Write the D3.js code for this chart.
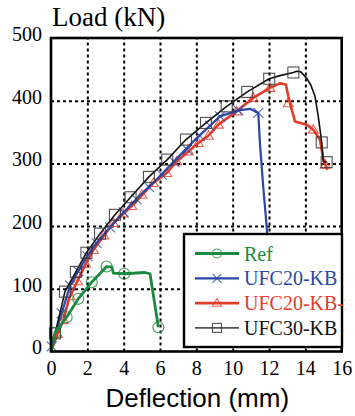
<!DOCTYPE html>
<html>
<head>
<meta charset="utf-8">
<script src="https://cdn.jsdelivr.net/npm/d3@7/dist/d3.min.js"></script>
<style>
  body { margin: 0; background: #fff; }
  svg { display: block; }
  .serif { font-family: "Liberation Serif", Tinos, "DejaVu Serif", "Times New Roman", serif; }
  .sans { font-family: "Liberation Sans", Arimo, Arial, sans-serif; }
</style>
</head>
<body>
<div id="chart"></div>
<script>
// deflection (mm) / load (kN)
const refDefl = [0, 0.22, 0.86, 1.50, 2.24, 3.06, 3.35, 3.43, 4.03, 5.17, 5.45, 5.91];
const refLoad = [0, 30, 54.6, 84, 110.5, 135.5, 135, 125, 124, 126, 124, 38.7];
const refMarkDefl = [0.22, 0.86, 1.50, 2.24, 3.06, 4.03, 5.91];
const refMarkLoad = [30, 54.6, 84, 110.5, 135.5, 124, 38.7];

const kbDefl = [0, 0.04, 0.3, 0.59, 1.05, 1.5, 2.0, 2.5, 3.25, 4.0, 5.0, 6.0, 7.0, 8.0, 8.75, 9.3, 10.31, 10.95, 11.41, 11.5, 11.68, 11.87, 12.0, 12.1];
const kbLoad = [0, 8, 35, 61, 105, 128, 152, 173, 198, 222, 252, 280, 310, 340, 360, 375, 384.6, 387, 380.5, 332, 263, 199, 140, 90];
const kbMarkDefl = [0.04, 0.59, 1.05, 1.5, 2.0, 2.5, 3.25, 4.0, 4.7, 5.4, 6.1, 6.8, 7.5, 8.2, 8.75, 9.3, 10.31, 11.41];
const kbMarkLoad = [8, 61, 105, 128, 152, 173, 198, 222, 243, 262, 282, 302, 322, 344, 360, 375, 384.6, 380.5];

const kbrDefl = [0, 0.35, 0.68, 1.0, 1.5, 2.0, 2.33, 3.43, 4.44, 5.63, 6.37, 6.92, 7.56, 8.11, 8.66, 9.21, 10.22, 11.13, 12.05, 12.6, 12.93, 13.06, 13.15, 13.43, 14.07, 14.44, 14.8, 14.99, 15.21];
const kbrLoad = [0, 28, 50, 85, 115, 145, 162, 204.8, 232, 268.7, 284.7, 303, 319, 332.6, 344, 361.8, 383, 404.5, 420.5, 427.6, 425.7, 407, 396.5, 367, 361.8, 353.8, 338, 306, 290];
const kbrMarkDefl = [0.35, 0.68, 1.05, 1.45, 1.9, 2.33, 2.9, 3.43, 3.95, 4.44, 5.0, 5.63, 6.37, 6.92, 7.56, 8.11, 8.66, 9.21, 10.22, 11.13, 12.05, 13.06, 14.44, 15.1];
const kbrMarkLoad = [28, 50, 88, 112, 140, 162, 185, 205, 220, 232, 250, 268.7, 284.7, 303, 319, 332.6, 344, 361.8, 383, 404.5, 420.5, 396, 353.8, 298];

const kb30Defl = [0, 0.22, 0.5, 0.77, 1.0, 1.37, 1.95, 2.7, 3.52, 4.38, 5.39, 6.4, 7.43, 8.53, 9.67, 10.8, 12.01, 12.6, 13.34, 13.52, 13.75, 14.07, 14.3, 14.53, 14.71, 14.9, 14.99, 15.17];
const kb30Load = [0, 29, 62, 95.5, 108, 127, 157.5, 188, 218, 246, 278.5, 306, 338, 364.5, 391, 414, 435, 440, 445, 447, 446, 436, 425, 407, 375, 333.5, 303, 302];
const kb30MarkDefl = [0.22, 0.77, 1.37, 1.95, 2.7, 3.52, 4.38, 5.39, 6.4, 7.43, 8.53, 9.67, 10.8, 12.01, 13.34, 14.9, 15.17];
const kb30MarkLoad = [29, 95.5, 127, 157.5, 188, 218, 246, 278.5, 306, 338, 364.5, 391, 414, 435, 445, 333.5, 302];

const xTicks = [0, 2, 4, 6, 8, 10, 12, 14, 16];
const yTicks = [0, 100, 200, 300, 400, 500];
const seriesNames = ["Ref", "UFC20-KB", "UFC20-KB-r", "UFC30-KB"];

const W = 355, H = 416;
const margin = {top: 38, right: 13.3, bottom: 64.5, left: 51};
const width = W - margin.left - margin.right;
const height = H - margin.top - margin.bottom;

const svg = d3.select("#chart").append("svg")
  .attr("width", W).attr("height", H);

const x = d3.scaleLinear().domain([0, 16]).range([0, width]);
const y = d3.scaleLinear().domain([0, 500]).range([height, 0]);

const g = svg.append("g").attr("transform", `translate(${margin.left},${margin.top})`);

// dotted grid
g.append("g")
  .attr("transform", `translate(0,${height})`)
  .call(d3.axisBottom(x).tickValues(xTicks.slice(1, -1)).tickSize(-height).tickFormat(""))
  .call(a => a.select(".domain").remove())
  .selectAll("line").attr("stroke", "#000").attr("stroke-width", 2).attr("stroke-dasharray", "3,3");
g.append("g")
  .call(d3.axisLeft(y).tickValues(yTicks.slice(1, -1)).tickSize(-width).tickFormat(""))
  .call(a => a.select(".domain").remove())
  .selectAll("line").attr("stroke", "#000").attr("stroke-width", 2).attr("stroke-dasharray", "3,3");

// tick labels
const xa = g.append("g")
  .attr("transform", `translate(0,${height})`)
  .call(d3.axisBottom(x).tickValues(xTicks).tickSize(0).tickPadding(9).tickFormat(d3.format("d")));
xa.select(".domain").remove();
xa.attr("font-family", null).attr("font-size", null);
xa.selectAll("text").attr("class", "serif").style("font-size", "20px").attr("fill", "#000");

const ya = g.append("g")
  .call(d3.axisLeft(y).tickValues(yTicks).tickSize(0).tickPadding(9).tickFormat(d3.format("d")));
ya.select(".domain").remove();
ya.attr("font-family", null).attr("font-size", null);
ya.selectAll("text").attr("class", "serif").style("font-size", "20px").attr("fill", "#000").attr("dy", "0.12em");

const series = [
  {name: seriesNames[0], dx: refDefl, dy: refLoad, mx: refMarkDefl, my: refMarkLoad, color: "#1b8a3e", lw: 2.8, mark: "circle", ms: 5.5},
  {name: seriesNames[1], dx: kbDefl, dy: kbLoad, mx: kbMarkDefl, my: kbMarkLoad, color: "#2b47a6", lw: 2.2, mark: "cross", ms: 5},
  {name: seriesNames[2], dx: kbrDefl, dy: kbrLoad, mx: kbrMarkDefl, my: kbrMarkLoad, color: "#e23b2a", lw: 2.6, mark: "tri", ms: 5},
  {name: seriesNames[3], dx: kb30Defl, dy: kb30Load, mx: kb30MarkDefl, my: kb30MarkLoad, color: "#111", lw: 1.6, mark: "square", ms: 5.5}
];

function drawMark(sel, s, cx, cy) {
  const r = s.ms;
  if (s.mark === "circle") {
    sel.append("circle").attr("cx", cx).attr("cy", cy).attr("r", r)
      .attr("fill", "none").attr("stroke", s.color).attr("stroke-width", 1.1).attr("opacity", 0.85);
  } else if (s.mark === "cross") {
    sel.append("path").attr("d", `M${cx - r},${cy - r}L${cx + r},${cy + r}M${cx - r},${cy + r}L${cx + r},${cy - r}`)
      .attr("stroke", s.color).attr("stroke-width", 1.1).attr("opacity", 0.8);
  } else if (s.mark === "tri") {
    sel.append("path").attr("d", `M${cx},${cy - r}L${cx + r},${cy + r * 0.7}L${cx - r},${cy + r * 0.7}Z`)
      .attr("fill", "none").attr("stroke", s.color).attr("stroke-width", 1.1).attr("opacity", 0.8);
  } else {
    sel.append("rect").attr("x", cx - r).attr("y", cy - r).attr("width", 2 * r).attr("height", 2 * r)
      .attr("fill", "none").attr("stroke", "#333").attr("stroke-width", 1.1).attr("opacity", 0.85);
  }
}

const line = d3.line().x(d => x(d[0])).y(d => y(d[1]));

// red/blue first, green & black on top like the reference
[2, 1, 3, 0].forEach(i => {
  const s = series[i];
  const pts = s.dx.map((v, k) => [v, s.dy[k]]);
  g.append("path").datum(pts).attr("d", line)
    .attr("fill", "none").attr("stroke", s.color).attr("stroke-width", s.lw).attr("stroke-linejoin", "round");
  const mg = g.append("g");
  s.mx.forEach((v, k) => drawMark(mg, s, x(v), y(s.my[k])));
});

// frame
g.append("rect").attr("x", 0).attr("y", 0).attr("width", width).attr("height", height)
  .attr("fill", "none").attr("stroke", "#000").attr("stroke-width", 2.6);

// legend (text is cut off at the box edge, as in the source)
svg.append("defs").append("clipPath").attr("id", "legclip")
  .append("rect").attr("x", 180).attr("y", 230).attr("width", 165).attr("height", 120);
const lg = svg.append("g");
lg.append("rect").attr("x", 184).attr("y", 234).attr("width", 158).attr("height", 113)
  .attr("fill", "#fff").attr("stroke", "#000").attr("stroke-width", 2.4);
const lt = lg.append("g").attr("clip-path", "url(#legclip)");
series.forEach((s, i) => {
  const by = 260.5 + i * 24.8;
  const ly = by - 7;
  lg.append("line").attr("x1", 195).attr("x2", 239).attr("y1", ly).attr("y2", ly)
    .attr("stroke", i === 3 ? "#555" : s.color).attr("stroke-width", i === 3 ? 1.6 : s.lw);
  drawMark(lg, Object.assign({}, s, {ms: 4.5}), 217, ly);
  lt.append("text").attr("x", 244).attr("y", by).attr("class", "serif")
    .style("font-size", "20px").attr("fill", s.color).text(s.name);
});

// axis titles
svg.append("text").attr("x", 52).attr("y", 26).attr("class", "serif")
  .style("font-size", "27px").attr("fill", "#000").text("Load (kN)");
svg.append("text").attr("x", margin.left + width / 2 + 1).attr("y", 407).attr("class", "sans")
  .attr("text-anchor", "middle").style("font-size", "26px").attr("fill", "#000")
  .text("Deflection (mm)");
</script>
</body>
</html>
